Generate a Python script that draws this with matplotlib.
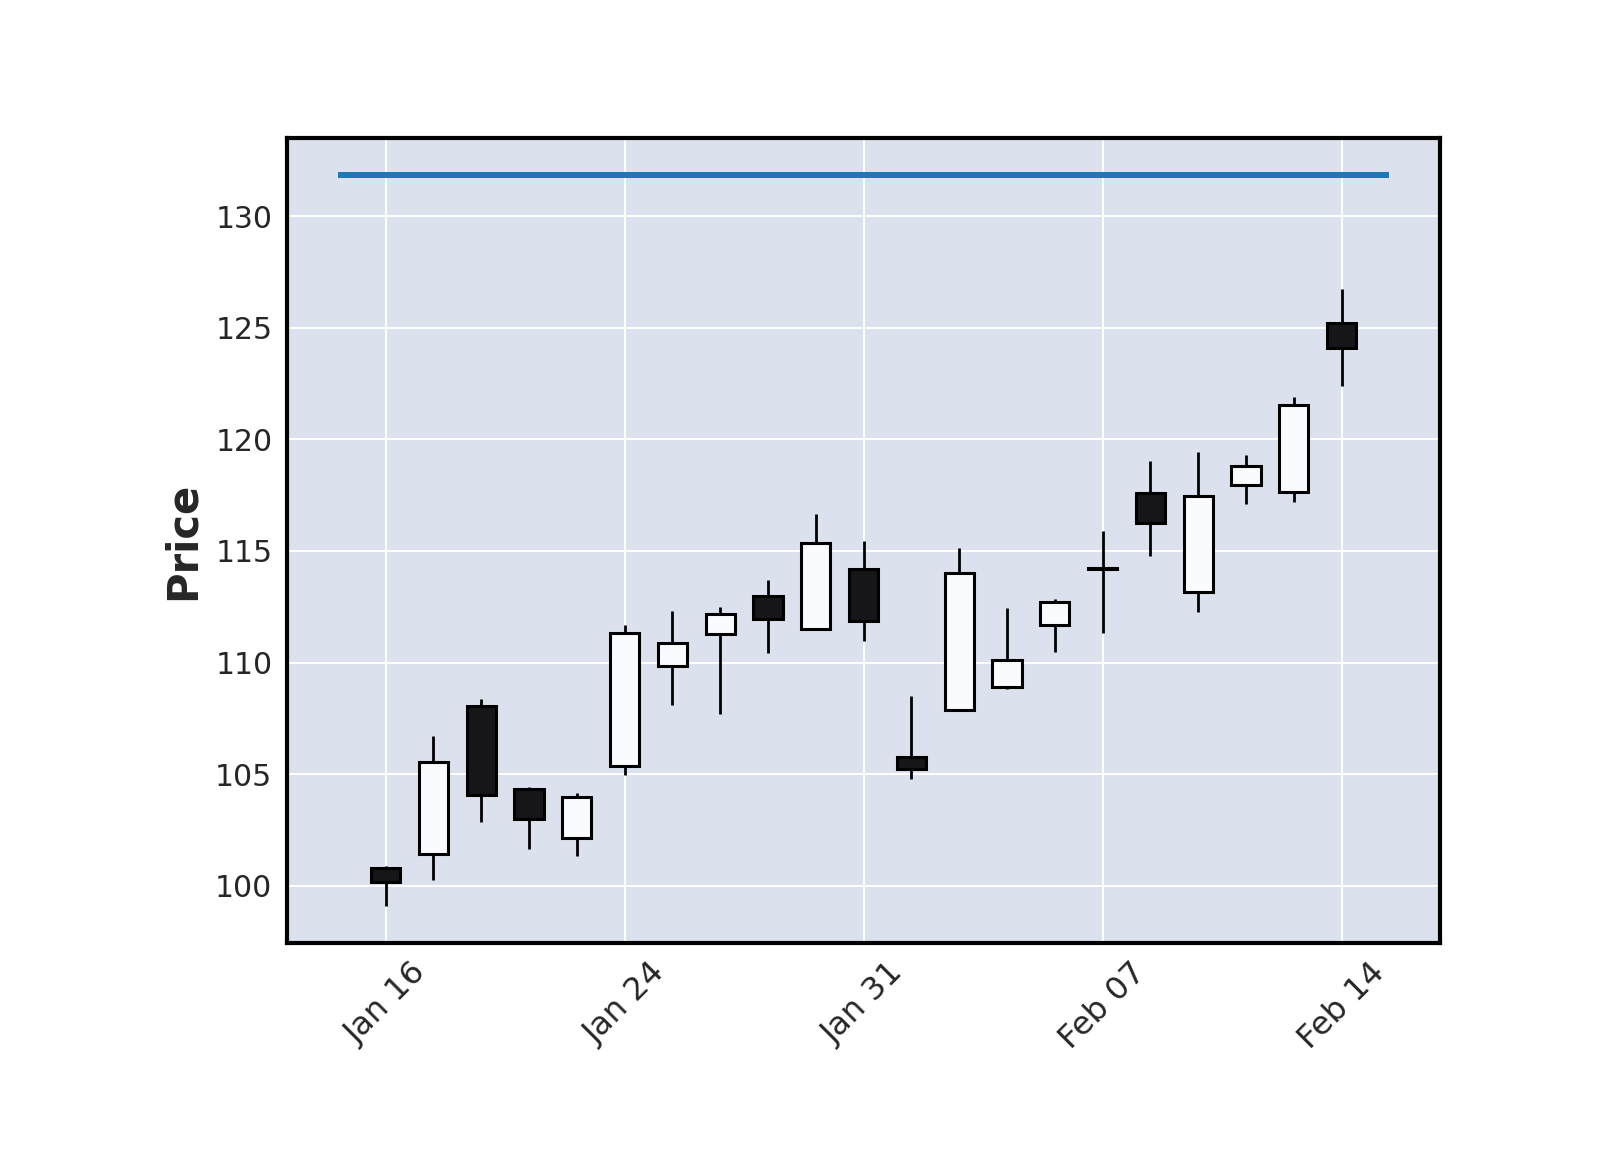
import matplotlib
matplotlib.use("Agg")
import matplotlib.pyplot as plt
from matplotlib.patches import Rectangle
import datetime as _dt

# ---- data ----
dates = ["2020-01-16", "2020-01-17", "2020-01-21", "2020-01-22", "2020-01-23",
         "2020-01-24", "2020-01-27", "2020-01-28", "2020-01-29", "2020-01-30",
         "2020-01-31", "2020-02-03", "2020-02-04", "2020-02-05", "2020-02-06",
         "2020-02-07", "2020-02-10", "2020-02-11", "2020-02-12", "2020-02-13",
         "2020-02-14"]
opens  = [100.79, 101.43, 108.05, 104.33, 102.15, 105.38, 109.83, 111.30, 112.98, 111.52,
          114.18, 105.77, 107.89, 108.92, 111.70, 114.18, 117.59, 113.15, 117.97, 117.66,
          125.22]
highs  = [100.90, 106.69, 108.35, 104.44, 104.17, 111.70, 112.30, 112.48, 113.69, 116.64,
          115.46, 108.52, 115.15, 112.46, 112.86, 115.90, 119.02, 119.45, 119.32, 121.89,
          126.73]
lows   = [99.09, 100.25, 102.84, 101.63, 101.31, 104.95, 108.08, 107.68, 110.41, 111.50,
          110.95, 104.78, 107.83, 108.82, 110.47, 111.31, 114.78, 112.27, 117.11, 117.18,
          122.40]
closes = [100.18, 105.54, 104.08, 102.99, 103.97, 111.33, 110.86, 112.18, 111.97, 115.36,
          111.88, 105.21, 114.00, 110.10, 112.70, 114.18, 116.27, 117.45, 118.81, 121.55,
          124.11]
tick_idx = [0, 5, 10, 15, 20]
hline_value = 131.85
hline_span = [-0.93, 20.93]
ylabel = "Price"

# ---- style ----
bg = "#DCE1EE"
up_face = "#FAFBFE"
down_face = "#161618"
edge = "#000000"
txt = "#262626"

fig = plt.figure(figsize=(16, 11.5), dpi=100)
ax = fig.add_axes([287/1600, 1 - 943/1150, (1440-287)/1600, (943-138)/1150])
ax.set_facecolor(bg)
ax.set_axisbelow(True)
ax.grid(True, color="white", linewidth=1.4)

body_w = 0.61
for i, (o, h, l, c) in enumerate(zip(opens, highs, lows, closes)):
    lo_b, hi_b = min(o, c), max(o, c)
    ax.vlines(i, l, lo_b, color=edge, linewidth=2.0, zorder=2)
    ax.vlines(i, hi_b, h, color=edge, linewidth=2.0, zorder=2)
    face = up_face if c >= o else down_face
    ax.add_patch(Rectangle((i - body_w/2, lo_b), body_w, max(hi_b - lo_b, 0.05),
                           facecolor=face, edgecolor=edge, linewidth=2.2, zorder=3))

ax.plot(hline_span, [hline_value, hline_value], color="#1f77b4", linewidth=4.3, zorder=4)

ax.set_xlim(-2.065, 22.06)
ax.set_ylim(97.43, 133.51)
ax.set_yticks([100, 105, 110, 115, 120, 125, 130])
ax.set_xticks(tick_idx)
labels = [_dt.datetime.strptime(dates[k], "%Y-%m-%d").strftime("%b %d") for k in tick_idx]
ax.set_xticklabels(labels, rotation=45, ha="center")
ax.tick_params(axis="both", length=0, colors=txt)
ax.tick_params(axis="y", labelsize=21.5, pad=10.5)
ax.tick_params(axis="x", labelsize=23, pad=10)
for s in ax.spines.values():
    s.set_color("black")
    s.set_linewidth(3)
ax.set_ylabel(ylabel, fontsize=30, fontweight="bold", color=txt, labelpad=8)

fig.savefig("out.png", dpi=100, facecolor="white")
